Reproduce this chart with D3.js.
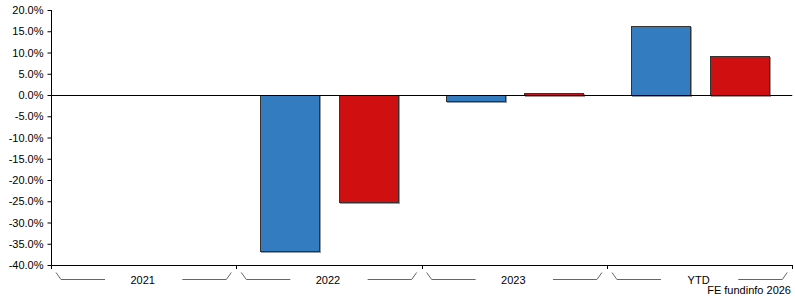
<!DOCTYPE html>
<html><head><meta charset="utf-8">
<script src="https://cdn.jsdelivr.net/npm/d3@7"></script>
<style>body{margin:0;background:#fff}svg{display:block}text{font-family:Arial,"Liberation Sans",sans-serif}</style>
</head><body>
<script>
const categories = ["2021", "2022", "2023", "YTD"];
const seriesNames = ["Fund", "Sector"];
const fundValues = [null, -36.6, -1.5, 16.3];
const sectorValues = [null, -25.2, 0.5, 9.2];
const yTicks = [20, 15, 10, 5, 0, -5, -10, -15, -20, -25, -30, -35, -40];
const seriesColors = ["#337cc0", "#d01010"];
const credit = "FE fundinfo 2026";

(function () {
const W = 795, H = 300;
const svg = d3.select("body").append("svg").attr("width", W).attr("height", H);
const pl = 51, pr = 792.25, pt = 10, pb = 265;

const y = d3.scaleLinear().domain([-40, 20]).range([pb, pt]);
const x = d3.scaleBand().domain(categories).range([pl, pr]);
const xs = d3.scaleBand().domain(seriesNames).range([0, x.bandwidth()]).paddingInner(0.253).paddingOuter(0.304);

const values = [fundValues, sectorValues];
const data = [];
categories.forEach((c, i) => seriesNames.forEach((s, j) => {
  if (values[j][i] != null) data.push({c, s, v: values[j][i], j});
}));
const g = svg.append("g");
g.selectAll("rect.sh").data(data).join("rect").attr("class", "sh")
  .attr("x", d => Math.round(x(d.c) + xs(d.s)) + 1.5)
  .attr("y", d => Math.round(y(Math.max(0, d.v))) + 1.5)
  .attr("width", Math.round(xs.bandwidth()))
  .attr("height", d => Math.max(1, Math.abs(Math.round(y(d.v)) - Math.round(y(0)))))
  .attr("fill", "none").attr("stroke", "#999").attr("stroke-width", 1);
g.selectAll("rect.bar").data(data).join("rect").attr("class", "bar")
  .attr("x", d => Math.round(x(d.c) + xs(d.s)) + 0.5)
  .attr("y", d => Math.round(y(Math.max(0, d.v))) + 0.5)
  .attr("width", Math.round(xs.bandwidth()))
  .attr("height", d => Math.max(1, Math.abs(Math.round(y(d.v)) - Math.round(y(0)))))
  .attr("fill", d => seriesColors[d.j]).attr("stroke", "#333").attr("stroke-width", 1);

svg.append("line").attr("x1", pl).attr("x2", pr)
  .attr("y1", Math.round(y(0)) + 0.5).attr("y2", Math.round(y(0)) + 0.5)
  .attr("stroke", "#000").attr("stroke-width", 1);

const ya = svg.append("g").attr("transform", `translate(${pl + 0.5},0)`)
  .call(d3.axisLeft(y).tickValues(yTicks).tickSize(4).tickPadding(4).tickFormat(d => d.toFixed(1) + "%"));
ya.select(".domain").attr("d", `M0,${pt}V${pb + 3}`).attr("stroke", "#000");
ya.selectAll(".tick line").attr("stroke", "#000");
ya.selectAll("text").attr("font-size", 11).attr("fill", "#000").attr("font-family", "Arial,'Liberation Sans',sans-serif");

svg.append("line").attr("x1", pl).attr("x2", pr).attr("y1", pb + 0.5).attr("y2", pb + 0.5).attr("stroke", "#000");
const bounds = categories.map(c => x(c)).concat([x(categories[categories.length - 1]) + x.bandwidth()]);
svg.selectAll("line.xt").data(bounds).join("line").attr("class", "xt")
  .attr("x1", d => Math.round(d) + 0.5).attr("x2", d => Math.round(d) + 0.5)
  .attr("y1", pb).attr("y2", pb + 4).attr("stroke", "#000");

categories.forEach(c => {
  const b0 = x(c), b1 = x(c) + x.bandwidth();
  const yt = 272.5, yb = 279.5;
  svg.append("path")
    .attr("d", `M${b0 + 5},${yt}L${b0 + 10},${yb}H${b0 + 54}`)
    .attr("fill", "none").attr("stroke", "#666").attr("stroke-width", 1);
  svg.append("path")
    .attr("d", `M${b1 - 54},${yb}H${b1 - 10}L${b1 - 5},${yt}`)
    .attr("fill", "none").attr("stroke", "#666").attr("stroke-width", 1);
  svg.append("text").attr("x", (b0 + b1) / 2 - 1).attr("y", 284)
    .attr("text-anchor", "middle").attr("font-size", 11).attr("fill", "#000").text(c);
});

svg.append("text").attr("x", 791).attr("y", 294).attr("text-anchor", "end")
  .attr("font-size", 11).attr("fill", "#000").text(credit);
})();
</script>
</body></html>
